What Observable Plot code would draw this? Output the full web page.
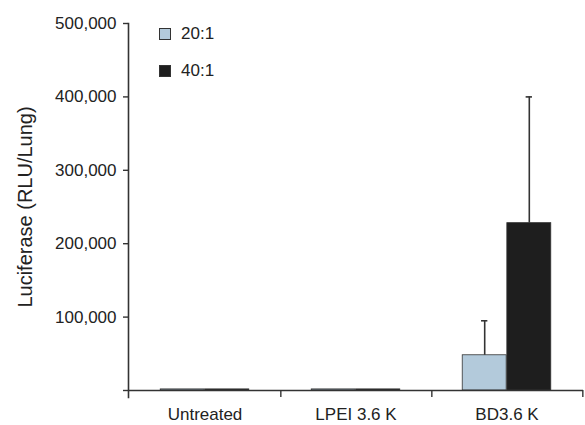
<!DOCTYPE html>
<html>
<head>
<meta charset="utf-8">
<script src="https://cdn.jsdelivr.net/npm/d3@7"></script>
<script src="https://cdn.jsdelivr.net/npm/@observablehq/plot@0.6"></script>
<style>
  html, body { margin: 0; padding: 0; background: #fff; }
  #wrap { position: relative; width: 585px; height: 425px; font-family: "Liberation Sans", Arial, sans-serif; color: #222; }
  .leg { position: absolute; left: 159px; display: flex; align-items: center; font-size: 17px; }
  .sw { width: 12px; height: 12px; box-sizing: border-box; margin-right: 10px; }
</style>
</head>
<body>
<div id="wrap"></div>
<script>
// ---- data ----
const categories = ["Untreated", "LPEI 3.6 K", "BD3.6 K"];
const series = ["20:1", "40:1"];
const values20 = [1500, 1500, 48000];
const values40 = [1500, 1500, 228000];
const err20 = [0, 0, 47000];
const err40 = [0, 0, 172000];
const yTicks = [0, 100000, 200000, 300000, 400000, 500000];
const colors = ["#b3cadb", "#1e1e1e"];

const rows = [];
categories.forEach((c, i) => {
  rows.push({cat: c, s: series[0], v: values20[i], e: err20[i]});
  rows.push({cat: c, s: series[1], v: values40[i], e: err40[i]});
});

// ---- layout ----
const W = 585, H = 425;
const mL = 128, mR = 2, mT = 23, mB = 35;
const band = (W - mL - mR) / categories.length;
const pad = 0.7;
const barW = band / (series.length + 2 * pad);
const off = pad * barW;
const centerOf = k => off + barW * (k + 0.5); // within band
const capHalf = 3.5;

const marks = [];
series.forEach((s, k) => {
  const data = rows.filter(d => d.s === s);
  const left = off + barW * k;
  const right = band - left - barW;
  marks.push(Plot.barY(data, {
    x: "cat", y: "v", fill: colors[k], stroke: "#333", strokeWidth: 0.8,
    insetLeft: left, insetRight: right
  }));
  const eb = data.filter(d => d.e > 0);
  const c = centerOf(k);
  marks.push(Plot.ruleX(eb, {
    x: "cat", y1: "v", y2: d => d.v + d.e, dx: c - band / 2,
    stroke: "#333", strokeWidth: 1.6
  }));
  marks.push(Plot.tickY(eb, {
    x: "cat", y: d => d.v + d.e, stroke: "#333", strokeWidth: 1.6,
    insetLeft: c - capHalf, insetRight: band - c - capHalf
  }));
});

const chart = Plot.plot({
  width: W, height: H,
  marginLeft: mL, marginRight: mR, marginTop: mT, marginBottom: mB,
  style: {fontFamily: '"Liberation Sans", Arial, sans-serif', color: "#222", background: "#fff"},
  x: {domain: categories, padding: 0},
  y: {domain: [0, 500000]},
  marks: [
    ...marks,
    Plot.ruleY([0], {stroke: "#333", strokeWidth: 1.6}),
    Plot.frame({anchor: "left", stroke: "#333", strokeWidth: 1.6, insetBottom: -7}),
    Plot.axisY({ticks: yTicks, tickSize: 5, tickPadding: 7, fontSize: 17, label: null,
      stroke: "#333", strokeWidth: 1.4,
      tickFormat: d => d === 0 ? "" : d3.format(",")(d)}),
    Plot.axisX({tickSize: 7, tickFormat: () => "", dx: band / 2, label: null,
      stroke: "#333", strokeWidth: 1.4}),
    Plot.axisX({tickSize: 0, tickPadding: 17, fontSize: 17, label: null}),
    Plot.text(["Luciferase (RLU/Lung)"], {frameAnchor: "left", textAnchor: "middle", lineAnchor: "middle",
      rotate: -90, dx: -103, fontSize: 20, fill: "#222"})
  ]
});

const wrap = document.getElementById("wrap");
wrap.appendChild(chart);

// legend (inside plot area)
series.forEach((s, k) => {
  const el = document.createElement("div");
  el.className = "leg";
  el.style.top = (k === 0 ? 24 : 61) + "px";
  el.style.height = "20px";
  const sw = document.createElement("span");
  sw.className = "sw";
  sw.style.background = colors[k];
  sw.style.border = "1px solid #333";
  const tx = document.createElement("span");
  tx.textContent = s;
  el.appendChild(sw); el.appendChild(tx);
  wrap.appendChild(el);
});
</script>
</body>
</html>
